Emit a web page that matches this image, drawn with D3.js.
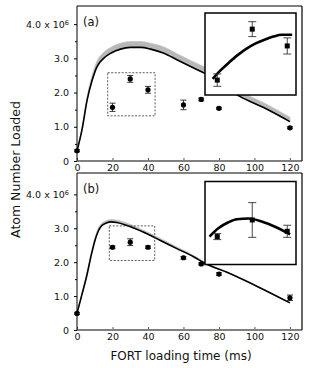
<!DOCTYPE html>
<html>
<head>
<meta charset="utf-8">
<script src="https://cdn.jsdelivr.net/npm/d3@7"></script>
<style>
  body { margin: 0; background: #fff; }
  svg text { font-family: "DejaVu Sans", sans-serif; fill: #111; }
</style>
</head>
<body>
<div id="chart"></div>
<script>
// measured data (atom number in units of 10^6, time in ms)
const times = [0, 20, 30, 40, 60, 70, 80, 120];
const atomsA = [0.30, 1.57, 2.40, 2.08, 1.64, 1.80, 1.54, 0.97];
const errA = [0.03, 0.12, 0.10, 0.10, 0.14, 0.04, 0.03, 0.03];
const atomsB = [0.49, 2.44, 2.59, 2.44, 2.13, 1.95, 1.65, 0.95];
const errB = [0.03, 0.04, 0.10, 0.04, 0.04, 0.03, 0.04, 0.08];

// model curves: black line (lower edge) and top of grey band
const fitTimesA = [0, 2.8, 5.7, 8.5, 11.3, 15, 19, 24.5, 30, 36, 41.5, 49, 56.6, 64, 72, 82, 92, 106, 120];
const fitA = [0.30, 0.91, 1.78, 2.35, 2.76, 3.00, 3.15, 3.27, 3.32, 3.32, 3.27, 3.15, 2.95, 2.76, 2.56, 2.21, 1.88, 1.54, 1.15];
const fitUpperA = [0.30, 0.96, 1.88, 2.50, 2.92, 3.17, 3.32, 3.44, 3.49, 3.49, 3.44, 3.33, 3.13, 2.94, 2.74, 2.39, 2.04, 1.68, 1.28];

const fitTimesB = [0, 2.8, 5.5, 8, 10, 12, 14, 16.8, 19, 22.5, 28.2, 37.6, 47, 56.3, 65.7, 72.3, 84.5, 103.3, 120];
const fitB = [0.49, 1.05, 1.60, 2.20, 2.62, 2.92, 3.08, 3.16, 3.19, 3.17, 3.08, 2.88, 2.64, 2.40, 2.16, 1.96, 1.70, 1.24, 0.80];
const fitUpperB = [0.49, 1.07, 1.65, 2.27, 2.70, 3.00, 3.15, 3.23, 3.26, 3.24, 3.15, 2.94, 2.70, 2.45, 2.20, 1.99, 1.72, 1.25, 0.80];

// insets (zoom of dashed boxes)
const insetTimes = [20, 30, 40];
const insetAtomsA = [1.57, 2.39, 2.12];
const insetErrA = [0.10, 0.12, 0.13];
const insetFitTimesA = [18.7, 21, 23.5, 26, 28.5, 31, 33.5, 36, 38.5, 41.4];
const insetFitA = [1.59, 1.73, 1.86, 1.98, 2.08, 2.16, 2.22, 2.27, 2.30, 2.30];

const insetAtomsB = [2.37, 2.59, 2.44];
const insetErrB = [0.04, 0.23, 0.08];
const insetFitTimesB = [17.8, 20.3, 23.2, 25.6, 28.9, 32.7, 36.5, 40.8];
const insetFitB = [2.37, 2.48, 2.56, 2.60, 2.61, 2.57, 2.50, 2.40];

// dashed boxes [t0, t1, n0, n1]
const boxA = [17.3, 44.0, 1.32, 2.58];
const boxB = [18.2, 43.8, 2.05, 3.07];

const yTicks = [0, 1, 2, 3, 4];
const yMinor = [0.5, 1.5, 2.5, 3.5];
const xTicks = [0, 20, 40, 60, 80, 100, 120];

const svg = d3.select("#chart").append("svg")
    .attr("width", 314)
    .attr("height", 368);

function panel(cfg) {
    const x = d3.scaleLinear().domain([0, 126.8]).range([77, 302]);
    const y = d3.scaleLinear().domain([0, cfg.ymax]).range([cfg.bottom, cfg.top]);
    const g = svg.append("g");

    // grey band + black model line
    const band = d3.area()
        .x((d, i) => x(cfg.fitTimes[i]))
        .y0((d, i) => y(cfg.fit[i]))
        .y1((d, i) => y(cfg.fitUpper[i]))
        .curve(d3.curveMonotoneX);
    g.append("path").datum(cfg.fit)
        .attr("d", band)
        .attr("fill", "#b8b8b8")
        .attr("stroke", "#c4c4c4")
        .attr("stroke-width", 0.8);
    const line = d3.line()
        .x((d, i) => x(cfg.fitTimes[i]))
        .y(d => y(d))
        .curve(d3.curveMonotoneX);
    g.append("path").datum(cfg.fit)
        .attr("d", line)
        .attr("fill", "none")
        .attr("stroke", "#000")
        .attr("stroke-width", 1.6);

    // dashed box
    g.append("rect")
        .attr("x", x(cfg.box[0]))
        .attr("y", y(cfg.box[3]))
        .attr("width", x(cfg.box[1]) - x(cfg.box[0]))
        .attr("height", y(cfg.box[2]) - y(cfg.box[3]))
        .attr("fill", "none")
        .attr("stroke", "#333")
        .attr("stroke-width", 0.8)
        .attr("stroke-dasharray", "2,1.5");

    // data points with error bars
    cfg.values.forEach((v, i) => {
        const cx = x(times[i]);
        const e = cfg.err[i];
        g.append("line")
            .attr("x1", cx).attr("x2", cx)
            .attr("y1", y(v - e)).attr("y2", y(v + e))
            .attr("stroke", "#222").attr("stroke-width", 0.9);
        [v - e, v + e].forEach(w => {
            g.append("line")
                .attr("x1", cx - 3).attr("x2", cx + 3)
                .attr("y1", y(w)).attr("y2", y(w))
                .attr("stroke", "#222").attr("stroke-width", 0.9);
        });
        g.append("circle")
            .attr("cx", cx).attr("cy", y(v)).attr("r", 2.6)
            .attr("fill", "#000");
    });

    // axes
    const yAxis = g.append("g")
        .attr("transform", "translate(77,0)")
        .call(d3.axisLeft(y).tickValues(yTicks).tickSize(3).tickPadding(5)
            .tickFormat(d => d === 0 ? "0" : d.toFixed(1)));
    yAxis.select(".domain").remove();
    yAxis.selectAll("text").attr("font-size", 9.5).attr("font-family", "DejaVu Sans");
    yAxis.selectAll(".tick").filter(d => d === 4).select("text")
        .text("4.0 x 10")
        .append("tspan").attr("dy", "-0.45em").attr("font-size", 6.5).text("6");
    const yMin = g.append("g")
        .attr("transform", "translate(77,0)")
        .call(d3.axisLeft(y).tickValues(yMinor).tickSize(2).tickFormat(""));
    yMin.select(".domain").remove();

    const xAxis = g.append("g")
        .attr("transform", `translate(0,${cfg.bottom})`)
        .call(d3.axisBottom(x).tickValues(xTicks).tickSizeInner(-3).tickSizeOuter(0).tickPadding(3.5));
    xAxis.select(".domain").remove();
    xAxis.selectAll("text").attr("font-size", 9.5).attr("font-family", "DejaVu Sans");
    xAxis.selectAll("line").attr("stroke", "#555");

    // frame
    g.append("line").attr("x1", 77).attr("x2", 302).attr("y1", cfg.top).attr("y2", cfg.top)
        .attr("stroke", "#808080").attr("stroke-width", 1.8);
    g.append("line").attr("x1", 77).attr("x2", 302).attr("y1", cfg.bottom).attr("y2", cfg.bottom)
        .attr("stroke", "#808080").attr("stroke-width", 1.8);
    g.append("line").attr("x1", 77).attr("x2", 77).attr("y1", cfg.top).attr("y2", cfg.bottom)
        .attr("stroke", "#000").attr("stroke-width", 1);
    g.append("line").attr("x1", 302).attr("x2", 302).attr("y1", cfg.top).attr("y2", cfg.bottom)
        .attr("stroke", "#000").attr("stroke-width", 1.2);

    g.append("text")
        .attr("x", 83).attr("y", cfg.top + 19.5)
        .attr("font-size", 11.5)
        .text(cfg.label);

    // inset
    const ix = d3.scaleLinear().domain([16.5, 42.5]).range([205, 296]);
    const iy = d3.scaleLinear().domain(cfg.insetDomain).range([cfg.insetBottom, cfg.insetTop]);
    g.append("rect")
        .attr("x", 205).attr("y", cfg.insetTop)
        .attr("width", 91).attr("height", cfg.insetBottom - cfg.insetTop)
        .attr("fill", "#fff").attr("stroke", "#000").attr("stroke-width", 1.5);
    const iline = d3.line()
        .x((d, i) => ix(cfg.insetFitTimes[i]))
        .y(d => iy(d))
        .curve(d3.curveMonotoneX);
    g.append("path").datum(cfg.insetFit)
        .attr("d", iline)
        .attr("fill", "none")
        .attr("stroke", "#000")
        .attr("stroke-width", 2.6);
    cfg.insetValues.forEach((v, i) => {
        const cx = ix(insetTimes[i]);
        const e = cfg.insetErr[i];
        g.append("line")
            .attr("x1", cx).attr("x2", cx)
            .attr("y1", iy(v - e)).attr("y2", iy(v + e))
            .attr("stroke", "#333").attr("stroke-width", 0.9);
        [v - e, v + e].forEach(w => {
            g.append("line")
                .attr("x1", cx - 4).attr("x2", cx + 4)
                .attr("y1", iy(w)).attr("y2", iy(w))
                .attr("stroke", "#333").attr("stroke-width", 0.9);
        });
        g.append("rect")
            .attr("x", cx - 2.5).attr("y", iy(v) - 2.5)
            .attr("width", 5).attr("height", 5)
            .attr("fill", "#000");
    });
}

panel({
    top: 6, bottom: 161, ymax: 4.53, label: "(a)",
    values: atomsA, err: errA,
    fitTimes: fitTimesA, fit: fitA, fitUpper: fitUpperA, box: boxA,
    insetTop: 13, insetBottom: 95, insetDomain: [1.33, 2.65],
    insetValues: insetAtomsA, insetErr: insetErrA,
    insetFitTimes: insetFitTimesA, insetFit: insetFitA
});

panel({
    top: 173, bottom: 330, ymax: 4.63, label: "(b)",
    values: atomsB, err: errB,
    fitTimes: fitTimesB, fit: fitB, fitUpper: fitUpperB, box: boxB,
    insetTop: 181.5, insetBottom: 264.5, insetDomain: [2.0, 3.1],
    insetValues: insetAtomsB, insetErr: insetErrB,
    insetFitTimes: insetFitTimesB, insetFit: insetFitB
});

svg.append("text")
    .attr("x", 181).attr("y", 359.5)
    .attr("text-anchor", "middle")
    .attr("font-size", 12)
    .text("FORT loading time (ms)");

svg.append("text")
    .attr("transform", "translate(19.5,169.5) rotate(-90)")
    .attr("text-anchor", "middle")
    .attr("font-size", 12.5)
    .text("Atom Number Loaded");
</script>
</body>
</html>
